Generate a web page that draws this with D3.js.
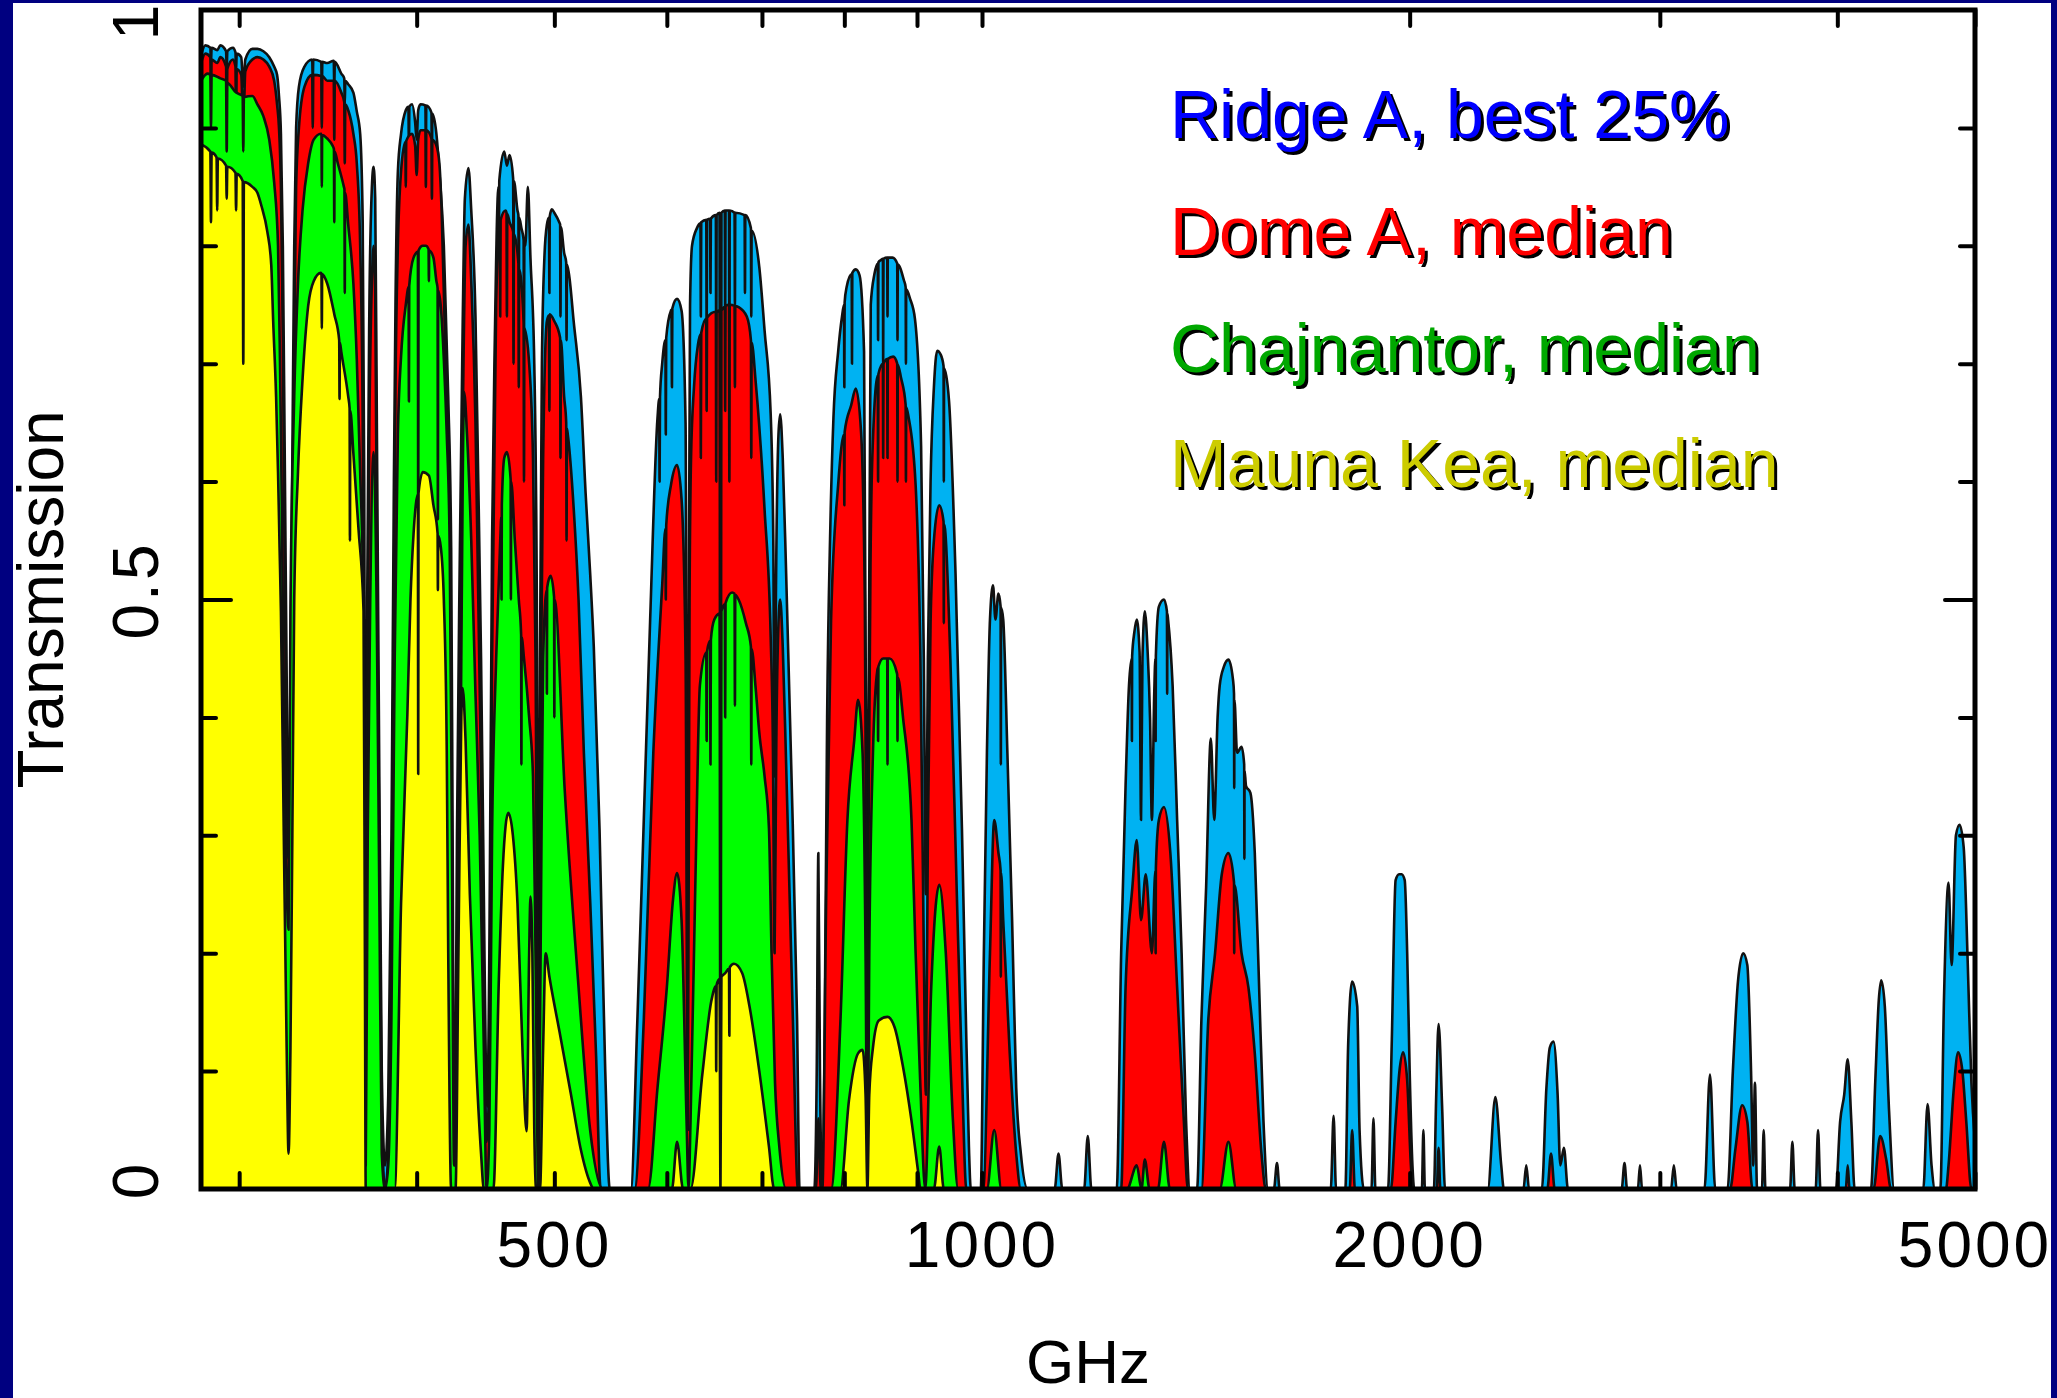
<!DOCTYPE html>
<html>
<head>
<meta charset="utf-8">
<script src="https://cdn.jsdelivr.net/npm/d3@7"></script>
<style>
  html, body { margin: 0; padding: 0; background: #ffffff; }
  svg { display: block; }
  text { font-family: "Liberation Sans", Arial, Helvetica, sans-serif; }
</style>
</head>
<body>
<div id="chart"></div>
<script>
// transmission vs frequency, [GHz, T]
const ridgeA = [
  [282, 0.962], [284, 0.97], [286.3, 0.968], [286.6, 0.955], [286.9, 0.968], [289.5, 0.966], [291, 0.97],
  [293.7, 0.965], [294, 0.95], [294.3, 0.965], [297, 0.968], [298.2, 0.964], [298.5, 0.948], [298.8, 0.963],
  [301, 0.96], [302, 0.935], [303, 0.958], [306.5, 0.967], [309, 0.967], [312, 0.965], [315, 0.96],
  [317.5, 0.952], [319, 0.945], [320, 0.927], [321, 0.895], [322, 0.8], [323, 0.62], [324.2, 0.4], [325, 0.3],
  [325.8, 0.4], [327, 0.62], [328, 0.8], [329, 0.9], [330.5, 0.935], [333.5, 0.952], [337.7, 0.958], [338, 0.94],
  [338.3, 0.958], [342.7, 0.956], [343, 0.93], [343.3, 0.956], [346, 0.955], [349.7, 0.957], [350, 0.935],
  [350.3, 0.956], [354, 0.946], [355.7, 0.942], [356, 0.92], [356.3, 0.94], [358, 0.937], [361, 0.93],
  [363, 0.914], [365, 0.895], [366.5, 0.82], [367.4, 0.6], [368.3, 0.1], [369.2, 0.5], [370.5, 0.75], [372, 0.85],
  [373, 0.867], [374, 0.84], [375, 0.65], [376.5, 0.35], [378, 0.1], [380, 0.02], [382, 0.08], [384, 0.3],
  [385.5, 0.6], [386.5, 0.75], [388, 0.863], [390, 0.895], [393, 0.915], [394.7, 0.918], [395, 0.88],
  [395.3, 0.918], [397, 0.92], [399, 0.905], [400, 0.89], [401, 0.915], [402.5, 0.92], [405.7, 0.919], [406, 0.88],
  [406.3, 0.919], [409.7, 0.913], [410, 0.87], [410.3, 0.912], [413, 0.895], [415, 0.863], [418, 0.8],
  [421, 0.672], [423, 0.544], [424, 0.3], [425, 0.03], [426, 0.1], [427, 0.3], [429, 0.54], [431, 0.736],
  [432.5, 0.84], [435, 0.866], [437, 0.83], [440, 0.74], [442, 0.6], [444, 0.45], [446, 0.25], [447.5, 0.1],
  [448.5, 0.07], [450, 0.2], [452, 0.55], [454, 0.72], [456.7, 0.85], [457, 0.8], [457.3, 0.855], [461, 0.88],
  [463, 0.868], [465, 0.877], [467.7, 0.857], [468, 0.78], [468.3, 0.855], [471, 0.83], [471.7, 0.826],
  [472, 0.74], [472.3, 0.824], [474, 0.815], [475.7, 0.805], [476, 0.72], [476.3, 0.803], [477, 0.8], [479, 0.85],
  [481, 0.79], [484, 0.7], [486, 0.5], [487.2, 0.05], [488.5, 0.45], [490, 0.7], [492, 0.79], [494, 0.818],
  [495.7, 0.824], [496, 0.76], [496.3, 0.825], [498, 0.831], [500, 0.828], [504, 0.82], [504.7, 0.818],
  [505, 0.74], [505.3, 0.816], [508, 0.794], [509.7, 0.786], [510, 0.72], [510.3, 0.784], [512, 0.776],
  [516, 0.735], [522, 0.672], [526, 0.59], [530, 0.52], [533, 0.46], [538, 0.305], [543, 0.1], [547, 0],
  [566, 0], [572, 0.143], [578, 0.313], [584, 0.483], [591, 0.654], [592.6, 0.67], [593, 0.6], [593.4, 0.672],
  [595.5, 0.7], [598.6, 0.72], [599, 0.64], [599.4, 0.722], [604, 0.745], [604.6, 0.746], [605, 0.68],
  [605.4, 0.747], [610, 0.755], [614.5, 0.745], [618.5, 0.65], [620.7, 0.08], [622, 0.55], [623, 0.75],
  [625, 0.8], [630, 0.815], [633.6, 0.819], [634, 0.74], [634.4, 0.82], [639.6, 0.822], [640, 0.72],
  [640.4, 0.822], [643.6, 0.823], [644, 0.76], [644.4, 0.823], [649.6, 0.826], [650, 0.7], [650.4, 0.826],
  [653.5, 0.828], [654.5, 0.05], [655.5, 0.828], [659.1, 0.83], [659.5, 0.74], [659.9, 0.83], [663.6, 0.83],
  [664, 0.66], [664.4, 0.83], [669.6, 0.828], [670, 0.75], [670.4, 0.828], [680.6, 0.826], [681, 0.76],
  [681.4, 0.826], [687.6, 0.815], [688, 0.74], [688.4, 0.813], [697, 0.782], [703, 0.728], [710, 0.657],
  [713, 0.55], [714.5, 0.35], [716, 0.5], [719, 0.64], [721, 0.657], [724, 0.62], [728, 0.522], [734, 0.36],
  [741, 0.144], [744, 0],
  [762, 0], [765, 0.1], [767, 0.285], [769, 0.1], [772, 0], [775, 0.14], [778, 0.4], [782, 0.56], [786, 0.654],
  [792, 0.71], [797, 0.74], [799.6, 0.75], [800, 0.68], [800.4, 0.752], [803, 0.765], [809.6, 0.776], [810, 0.7],
  [810.4, 0.777], [815, 0.78], [820, 0.775], [826, 0.71], [829, 0.35], [830.5, 0.03], [832, 0.4], [835, 0.75],
  [840, 0.776], [844.6, 0.785], [845, 0.72], [845.4, 0.786], [849, 0.788], [851.6, 0.789], [852, 0.7],
  [852.4, 0.789], [857.6, 0.79], [858, 0.74], [858.4, 0.79], [865, 0.79], [871.6, 0.785], [872, 0.72],
  [872.4, 0.784], [881, 0.771], [883.6, 0.765], [884, 0.7], [884.4, 0.763], [890, 0.755], [897, 0.738],
  [906, 0.63], [910, 0.45], [913, 0.25], [916, 0.45], [920, 0.6], [925, 0.68], [930, 0.711], [935, 0.708],
  [939.6, 0.698], [940, 0.6], [940.4, 0.696], [948, 0.668], [958, 0.522], [968, 0.306], [974, 0.15],
  [979, 0.036], [982, 0],
  [998, 0], [1003, 0.2], [1008, 0.37], [1013, 0.483], [1018, 0.512], [1022, 0.483], [1027, 0.505],
  [1030.6, 0.494], [1031, 0.36], [1031.4, 0.493], [1035, 0.483], [1042, 0.37], [1050, 0.228], [1057, 0.086],
  [1065, 0.03], [1077, 0],
  [1125, 0], [1132, 0.03], [1139, 0], [1180, 0], [1187, 0.045], [1194, 0],
  [1244, 0], [1253, 0.2], [1262, 0.342], [1269, 0.427], [1274.5, 0.45], [1275, 0.38], [1275.5, 0.452],
  [1280, 0.472], [1285, 0.483], [1291, 0.455], [1294, 0.313], [1297, 0.45], [1302, 0.49], [1308, 0.455],
  [1313, 0.4], [1317, 0.313], [1322, 0.42], [1324.5, 0.45], [1325, 0.38], [1325.5, 0.452], [1332, 0.494],
  [1343, 0.5], [1349.5, 0.49], [1350, 0.42], [1350.5, 0.488], [1352, 0.483], [1362, 0.427], [1372, 0.313],
  [1382, 0.2], [1392, 0.058], [1401, 0],
  [1417, 0], [1427, 0.143], [1438, 0.256], [1449, 0.382], [1457, 0.313], [1465, 0.4], [1470, 0.427],
  [1480, 0.443], [1491, 0.449], [1502, 0.432], [1504.5, 0.42], [1505, 0.34], [1505.5, 0.415], [1512, 0.37],
  [1523, 0.375], [1529.5, 0.36], [1530, 0.28], [1530.5, 0.355], [1534, 0.342], [1545, 0.336], [1556, 0.285],
  [1567, 0.171], [1578, 0.058], [1590, 0],
  [1605, 0], [1613, 0.022], [1620, 0], [1760, 0], [1768, 0.062], [1775, 0],
  [1802, 0], [1810, 0.12], [1822, 0.176], [1837, 0.155], [1844, 0.05], [1857, 0], [1880, 0], [1886, 0.06],
  [1892, 0], [1931, 0], [1943, 0.127], [1955, 0.262], [1966, 0.267], [1974, 0.267], [1984, 0.262], [1992, 0.2],
  [2000, 0.1], [2009, 0.02], [2015, 0], [2040, 0], [2045, 0.05], [2050, 0],
  [2080, 0], [2088, 0.08], [2096, 0.14], [2108, 0.07], [2118, 0], [2270, 0], [2298, 0.078], [2320, 0.02],
  [2330, 0], [2405, 0], [2416, 0.02], [2427, 0], [2478, 0], [2496, 0.085], [2510, 0.12], [2525, 0.125],
  [2542, 0.08], [2553, 0.02], [2568, 0.035], [2585, 0], [2820, 0], [2833, 0.022], [2845, 0], [2895, 0],
  [2905, 0.02], [2915, 0], [3055, 0], [3069, 0.02], [3083, 0], [3225, 0], [3254, 0.097], [3282, 0],
  [3348, 0], [3377, 0.1], [3405, 0.176], [3434, 0.2], [3457, 0.19], [3478, 0.1], [3490, 0.02], [3500, 0.09],
  [3512, 0], [3540, 0], [3550, 0.05], [3560, 0], [3705, 0], [3719, 0.04], [3733, 0], [3862, 0], [3877, 0.05],
  [3892, 0], [3991, 0], [4018, 0.057], [4045, 0.08], [4068, 0.11], [4092, 0.057], [4114, 0],
  [4224, 0], [4254, 0.092], [4278, 0.16], [4295, 0.177], [4320, 0.155], [4350, 0.066], [4386, 0],
  [4598, 0], [4630, 0.072], [4660, 0.02], [4686, 0],
  [4727, 0], [4755, 0.162], [4790, 0.26], [4814, 0.19], [4848, 0.3], [4876, 0.309], [4909, 0.29], [4942, 0.19],
  [4971, 0.09], [5000, 0.04]
];

const domeA = [
  [282, 0.955], [284, 0.963], [286.3, 0.96], [286.6, 0.92], [286.9, 0.958], [289.5, 0.955], [291, 0.96],
  [293.7, 0.952], [294, 0.9], [294.3, 0.95], [297, 0.958], [298.2, 0.952], [298.5, 0.9], [298.8, 0.95],
  [301, 0.945], [302, 0.9], [303, 0.948], [306.5, 0.958], [309, 0.96], [312, 0.958], [315, 0.952], [317.5, 0.94],
  [319, 0.92], [320, 0.9], [321, 0.85], [322, 0.72], [323, 0.52], [324.2, 0.33], [325, 0.28], [325.8, 0.33],
  [327, 0.52], [328, 0.72], [329, 0.85], [330.5, 0.9], [333.5, 0.935], [337.7, 0.945], [338, 0.9],
  [338.3, 0.945], [342.7, 0.944], [343, 0.9], [343.3, 0.944], [346, 0.94], [349.7, 0.94], [350, 0.89],
  [350.3, 0.94], [354, 0.93], [355.7, 0.922], [356, 0.87], [356.3, 0.92], [358, 0.915], [361, 0.895],
  [363, 0.87], [365, 0.8], [366.5, 0.65], [367.4, 0.4], [368.3, 0.05], [369.2, 0.4], [370.5, 0.65], [372, 0.77],
  [373, 0.8], [374, 0.76], [375, 0.55], [376.5, 0.28], [378, 0.06], [380, 0], [382, 0.03], [384, 0.2],
  [385.5, 0.5], [386.5, 0.68], [388, 0.8], [390, 0.863], [392.7, 0.888], [393, 0.85], [393.3, 0.889],
  [397, 0.895], [399, 0.885], [400, 0.86], [401, 0.89], [402.5, 0.898], [405.7, 0.898], [406, 0.85],
  [406.3, 0.898], [409.7, 0.891], [410, 0.84], [410.3, 0.89], [413, 0.885], [415, 0.87], [416.5, 0.83],
  [418.5, 0.736], [421, 0.608], [422.5, 0.49], [423.5, 0.2], [425, 0.02], [426.5, 0.1], [428, 0.3],
  [429.5, 0.5], [431, 0.65], [433, 0.8], [435, 0.818], [437, 0.77], [440, 0.65], [442, 0.5], [444, 0.35],
  [446, 0.18], [448, 0.04], [450, 0.1], [452, 0.45], [455, 0.75], [457.7, 0.82], [458, 0.74], [458.3, 0.822],
  [462, 0.83], [462.7, 0.828], [463, 0.74], [463.3, 0.827], [465, 0.82], [467.7, 0.812], [468, 0.7],
  [468.3, 0.81], [471.7, 0.785], [472, 0.68], [472.3, 0.78], [475.7, 0.735], [476, 0.6], [476.3, 0.73],
  [480, 0.7], [483, 0.62], [485, 0.45], [487.2, 0.03], [489, 0.4], [491, 0.62], [494, 0.736], [495.7, 0.741],
  [496, 0.66], [496.3, 0.742], [500, 0.736], [504.7, 0.722], [505, 0.62], [505.3, 0.72], [508, 0.672],
  [509.7, 0.65], [510, 0.55], [510.3, 0.645], [511, 0.64], [516, 0.576], [520, 0.5], [524.5, 0.37], [530, 0.242],
  [535, 0.113], [539, 0],
  [569.5, 0], [578, 0.143], [587, 0.37], [595.5, 0.512], [598.6, 0.56], [599, 0.5], [599.4, 0.563], [604, 0.597],
  [610, 0.614], [614.5, 0.585], [618.5, 0.45], [620.7, 0.05], [622.5, 0.5], [624, 0.62], [627, 0.68],
  [631, 0.716], [633.6, 0.725], [634, 0.62], [634.4, 0.726], [639.6, 0.738], [640, 0.66], [640.4, 0.739],
  [649.6, 0.744], [650, 0.6], [650.4, 0.744], [653.5, 0.745], [654.5, 0.03], [655.5, 0.745], [659.1, 0.748],
  [659.5, 0.66], [659.9, 0.749], [663.6, 0.75], [664, 0.6], [664.4, 0.75], [669.6, 0.749], [670, 0.68],
  [670.4, 0.749], [674, 0.748], [683, 0.74], [687.6, 0.72], [688, 0.62], [688.4, 0.718], [693, 0.684],
  [703, 0.576], [710, 0.468], [712.5, 0.38], [714.5, 0.2], [716.5, 0.38], [719, 0.48], [721, 0.5], [724, 0.46],
  [728, 0.36], [736, 0.144], [742, 0],
  [764, 0], [767, 0.06], [770, 0], [772, 0], [777, 0.256], [783, 0.483], [792, 0.597], [799.6, 0.64],
  [800, 0.58], [800.4, 0.642], [809, 0.665], [815, 0.679], [822, 0.642], [827, 0.5], [829, 0.25], [830.5, 0.02],
  [832, 0.3], [835, 0.55], [838, 0.636], [844.6, 0.69], [845, 0.6], [845.4, 0.691], [851.6, 0.7], [852, 0.62],
  [852.4, 0.7], [857.6, 0.704], [858, 0.62], [858.4, 0.704], [866, 0.706], [871.6, 0.7], [872, 0.6],
  [872.4, 0.699], [877, 0.688], [883.6, 0.665], [884, 0.6], [884.4, 0.663], [888, 0.654], [898, 0.597],
  [905, 0.45], [910, 0.2], [913, 0.08], [916, 0.3], [920, 0.48], [925, 0.55], [933, 0.58], [939.6, 0.566],
  [940, 0.48], [940.4, 0.564], [950, 0.45], [960, 0.25], [968, 0.1], [975, 0],
  [1002, 0], [1013, 0.2], [1020, 0.313], [1027, 0.285], [1030.6, 0.27], [1031, 0.18], [1031.4, 0.268],
  [1035, 0.228], [1046, 0.115], [1057, 0.03], [1065, 0],
  [1253, 0], [1262, 0.171], [1276, 0.256], [1285, 0.296], [1294, 0.228], [1304, 0.267], [1317, 0.2],
  [1324.5, 0.27], [1325, 0.2], [1325.5, 0.272], [1332, 0.313], [1343, 0.324], [1357, 0.285], [1372, 0.171],
  [1387, 0.058], [1396, 0],
  [1427, 0], [1443, 0.143], [1459, 0.2], [1475, 0.267], [1491, 0.285], [1504.5, 0.26], [1505, 0.2],
  [1505.5, 0.258], [1523, 0.2], [1540, 0.171], [1556, 0.115], [1573, 0.03], [1584, 0],
  [1815, 0], [1822, 0.05], [1830, 0], [1940, 0], [1955, 0.057], [1968, 0.102], [1979, 0.116], [1992, 0.092],
  [2004, 0.02], [2010, 0], [2090, 0], [2096, 0.035], [2102, 0], [2500, 0], [2515, 0.03], [2530, 0],
  [3362, 0], [3391, 0.034], [3428, 0.071], [3457, 0.057], [3486, 0], [4055, 0], [4068, 0.02], [4080, 0],
  [4242, 0], [4288, 0.045], [4330, 0.025], [4364, 0], [4770, 0], [4790, 0.02], [4831, 0.085], [4865, 0.116],
  [4900, 0.099], [4930, 0.057], [4971, 0], [5000, 0]
];

const chajnantor = [
  [282, 0.94], [285, 0.946], [286.3, 0.945], [286.6, 0.9], [286.9, 0.945], [291, 0.942], [293.7, 0.94],
  [294, 0.88], [294.3, 0.938], [298.5, 0.93], [301.7, 0.927], [302, 0.88], [302.3, 0.926], [306.5, 0.927],
  [309, 0.92], [312, 0.91], [315, 0.89], [317.5, 0.854], [319.5, 0.8], [320.5, 0.704], [321.5, 0.576],
  [322, 0.49], [323.5, 0.3], [325, 0.22], [326, 0.49], [328, 0.672], [330, 0.768], [332.5, 0.831],
  [335.5, 0.87], [338.5, 0.89], [342.5, 0.895], [342.8, 0.895], [343, 0.85], [343.2, 0.894], [346, 0.891],
  [349, 0.885], [349.8, 0.882], [350, 0.82], [350.2, 0.88], [352, 0.87], [355.5, 0.85], [355.8, 0.848],
  [356, 0.76], [356.2, 0.845], [358, 0.818], [361, 0.768], [363, 0.704], [365, 0.608], [367, 0.49],
  [368.3, 0.02], [369.5, 0.3], [371, 0.5], [373, 0.625], [375, 0.48], [376.5, 0.25], [378, 0.03], [380, 0],
  [382, 0.02], [384, 0.15], [386, 0.45], [388, 0.64], [390, 0.706], [393, 0.75], [394.8, 0.765], [395, 0.668],
  [395.2, 0.766], [398, 0.79], [400.8, 0.795], [401, 0.55], [401.2, 0.796], [404, 0.8], [406, 0.8],
  [407.8, 0.797], [408, 0.77], [408.2, 0.796], [411, 0.79], [413, 0.77], [413.8, 0.764], [414, 0.568],
  [414.2, 0.762], [416, 0.748], [418, 0.704], [420, 0.64], [422, 0.544], [423.5, 0.3], [425, 0.02], [427, 0.02],
  [428.5, 0.2], [430, 0.45], [432, 0.676], [434, 0.64], [437, 0.55], [440, 0.42], [443, 0.3], [446, 0.12],
  [448, 0], [450, 0.05], [452, 0.3], [455, 0.45], [458, 0.55], [458.8, 0.57], [459, 0.5], [459.2, 0.58],
  [461, 0.62], [463, 0.625], [465.8, 0.602], [466, 0.5], [466.2, 0.6], [469, 0.55], [472, 0.5], [473.8, 0.47],
  [474, 0.36], [474.2, 0.468], [476, 0.45], [480, 0.4], [483, 0.35], [485, 0.2], [487.2, 0], [489, 0.2],
  [491, 0.45], [493.8, 0.508], [494, 0.42], [494.2, 0.51], [497, 0.52], [499.8, 0.502], [500, 0.4],
  [500.2, 0.5], [508.5, 0.338], [519.5, 0.178], [530, 0.049], [541, 0],
  [582, 0], [591, 0.086], [600, 0.171], [606, 0.245], [610, 0.268], [614.5, 0.228], [619.5, 0.058],
  [621.5, 0], [623.5, 0.058], [629, 0.285], [633, 0.427], [639.6, 0.455], [640, 0.38], [640.4, 0.456],
  [643.6, 0.465], [644, 0.36], [644.4, 0.466], [648, 0.483], [653.5, 0.488], [654.5, 0.02], [655.5, 0.49],
  [659.1, 0.496], [659.5, 0.4], [659.9, 0.497], [667, 0.506], [669.6, 0.505], [670, 0.41], [670.4, 0.504],
  [674, 0.5], [682, 0.48], [687.6, 0.46], [688, 0.36], [688.4, 0.458], [693, 0.424], [697, 0.387], [703, 0.35],
  [708, 0.306], [711, 0.2], [715, 0.09], [720, 0.036], [728, 0],
  [783, 0], [795, 0.143], [804, 0.313], [813, 0.381], [818, 0.415], [824, 0.37], [828, 0.2], [830.5, 0],
  [833, 0.2], [838, 0.37], [844, 0.44], [844.6, 0.442], [845, 0.38], [845.4, 0.443], [852, 0.45],
  [857.6, 0.45], [858, 0.36], [858.4, 0.45], [861, 0.45], [871, 0.438], [871.6, 0.436], [872, 0.38],
  [872.4, 0.434], [880, 0.399], [892, 0.313], [898, 0.2], [905, 0.086], [912, 0], [921, 0.171], [933, 0.258],
  [943, 0.2], [954, 0.058], [962, 0],
  [1008, 0], [1020, 0.05], [1032, 0], [1265, 0], [1285, 0.02], [1295, 0], [1302, 0.025], [1312, 0],
  [1330, 0], [1343, 0.04], [1356, 0], [1470, 0], [1491, 0.04], [1510, 0], [5000, 0]
];

const maunaKea = [
  [282, 0.886], [286.3, 0.88], [286.6, 0.82], [286.9, 0.879], [289.2, 0.875], [289.5, 0.83], [289.8, 0.874],
  [293.7, 0.868], [294, 0.84], [294.3, 0.867], [298.2, 0.862], [298.5, 0.83], [298.8, 0.861], [301.7, 0.855],
  [302, 0.7], [302.3, 0.854], [306.5, 0.85], [309, 0.845], [311, 0.834], [314, 0.812], [316, 0.784],
  [317, 0.736], [318.5, 0.672], [319.5, 0.608], [320.3, 0.544], [321, 0.49], [322.5, 0.3], [324, 0.12],
  [325, 0.03], [326, 0.12], [327, 0.3], [328, 0.5], [330, 0.608], [332.5, 0.688], [335.5, 0.749], [338.5, 0.77],
  [342.5, 0.777], [342.8, 0.776], [343, 0.73], [343.2, 0.776], [346, 0.768], [350, 0.742], [352.8, 0.72],
  [353, 0.67], [353.2, 0.718], [354, 0.71], [358, 0.672], [358.8, 0.662], [359, 0.55], [359.2, 0.66],
  [361, 0.624], [364, 0.56], [367, 0.49], [367.8, 0.2], [368.3, 0],
  [386, 0], [390, 0.242], [394, 0.402], [396, 0.5], [398, 0.556], [400.8, 0.589], [401, 0.352], [401.2, 0.59],
  [404, 0.608], [408, 0.605], [411, 0.58], [413.8, 0.556], [414, 0.508], [414.2, 0.554], [416, 0.544],
  [418, 0.5], [420, 0.37], [421, 0.2], [423, 0],
  [426, 0], [428, 0.2], [430, 0.4], [431, 0.425], [433, 0.38], [436, 0.25], [440, 0.12], [444, 0.03], [446, 0],
  [453, 0], [457, 0.178], [460, 0.274], [464, 0.319], [467.5, 0.3], [471, 0.242], [475, 0.113], [478, 0.049],
  [480, 0.2], [481, 0.248], [482.5, 0.2], [484, 0.05], [485.5, 0], [488.5, 0], [491, 0.12], [493, 0.2],
  [496, 0.18], [505, 0.129], [513.5, 0.081], [522, 0.033], [530, 0.005], [533, 0],
  [605, 0], [610, 0.04], [616, 0], [623.5, 0], [635.5, 0.097], [645, 0.16], [649.6, 0.172], [650, 0.1],
  [650.4, 0.173], [653.5, 0.178], [654.5, 0], [655.5, 0.18], [659.5, 0.183], [663.6, 0.187], [664, 0.13],
  [664.4, 0.188], [669, 0.191], [678, 0.183], [686, 0.155], [697, 0.1], [708, 0.036], [714, 0],
  [795, 0], [806, 0.075], [818, 0.115], [824, 0.118], [828, 0.08], [830.5, 0], [833, 0.08], [838, 0.12],
  [846, 0.143], [858, 0.146], [868, 0.137], [880, 0.103], [892, 0.058], [902, 0.013], [905, 0],
  [925, 0], [933, 0.036], [940, 0], [5000, 0]
];

const seriesNames = ['Ridge A, best 25%', 'Dome A, median', 'Chajnantor, median', 'Mauna Kea, median'];
const fillColors = ['#00b2f2', '#ff0000', '#00ff00', '#ffff00'];
const labelColors = ['#0000ff', '#ff0000', '#00a800', '#cccc00'];

const xTicks = [300, 400, 500, 600, 700, 800, 900, 1000, 2000, 3000, 4000, 5000];
const xLabels = [500, 1000, 2000, 5000];
const yMinor = [0.1, 0.2, 0.3, 0.4, 0.6, 0.7, 0.8, 0.9];
const yMajor = [0.5];
const yLabels = [0, 0.5, 1];

const W = 2057, H = 1398;
const box = { left: 201, right: 1975, top: 10, bottom: 1189 };

const x = d3.scaleLog().domain([282, 5000]).range([box.left, box.right]);
const y = d3.scaleLinear().domain([0, 1]).range([box.bottom, box.top]);

const svg = d3.select('#chart').append('svg').attr('width', W).attr('height', H);

svg.append('rect').attr('width', W).attr('height', H).attr('fill', '#ffffff');

svg.append('defs').append('clipPath').attr('id', 'plotClip')
  .append('rect')
  .attr('x', box.left).attr('y', box.top)
  .attr('width', box.right - box.left).attr('height', box.bottom - box.top);

const area = d3.area()
  .x((d) => x(d[0]))
  .y0(y(0))
  .y1((d) => y(d[1]))
  .curve(d3.curveMonotoneX);

const line = d3.line()
  .x((d) => x(d[0]))
  .y((d) => y(d[1]))
  .curve(d3.curveMonotoneX);

const plot = svg.append('g').attr('clip-path', 'url(#plotClip)');

[ridgeA, domeA, chajnantor, maunaKea].forEach((data, i) => {
  plot.append('path').datum(data).attr('d', area).attr('fill', fillColors[i]);
  plot.append('path').datum(data).attr('d', line)
    .attr('fill', 'none')
    .attr('stroke', '#111')
    .attr('stroke-width', 2.6)
    .attr('stroke-linejoin', 'round');
});

// frame
svg.append('rect')
  .attr('x', box.left).attr('y', box.top)
  .attr('width', box.right - box.left).attr('height', box.bottom - box.top)
  .attr('fill', 'none').attr('stroke', '#000').attr('stroke-width', 5);

const tickStyle = (g) => g
  .call((g) => g.select('.domain').remove())
  .call((g) => g.selectAll('line').attr('stroke', '#000').attr('stroke-width', 4).attr('stroke-linecap', 'round'));

svg.append('g').attr('transform', `translate(0,${box.top})`)
  .call(d3.axisTop(x).tickValues(xTicks).tickSize(-16).tickFormat(''))
  .call(tickStyle);
svg.append('g').attr('transform', `translate(0,${box.bottom})`)
  .call(d3.axisBottom(x).tickValues(xTicks).tickSize(-16).tickFormat(''))
  .call(tickStyle);

svg.append('g').attr('transform', `translate(${box.left},0)`)
  .call(d3.axisLeft(y).tickValues(yMinor).tickSize(-15).tickFormat(''))
  .call(tickStyle);
svg.append('g').attr('transform', `translate(${box.left},0)`)
  .call(d3.axisLeft(y).tickValues(yMajor).tickSize(-30).tickFormat(''))
  .call(tickStyle);
svg.append('g').attr('transform', `translate(${box.right},0)`)
  .call(d3.axisRight(y).tickValues(yMinor).tickSize(-15).tickFormat(''))
  .call(tickStyle);
svg.append('g').attr('transform', `translate(${box.right},0)`)
  .call(d3.axisRight(y).tickValues(yMajor).tickSize(-30).tickFormat(''))
  .call(tickStyle);

// x tick labels
svg.append('g').selectAll('text').data(xLabels).join('text')
  .attr('x', (d) => x(d))
  .attr('y', 1267)
  .attr('text-anchor', 'middle')
  .attr('font-size', 64)
  .attr('letter-spacing', 3)
  .attr('fill', '#000')
  .text((d) => d);

// y tick labels, rotated
svg.append('g').selectAll('text').data(yLabels).join('text')
  .attr('transform', (d) => `translate(158,${Math.max(y(d) - 9, 21)}) rotate(-90)`)
  .attr('text-anchor', 'middle')
  .attr('font-size', 64)
  .attr('letter-spacing', 3)
  .attr('fill', '#000')
  .text((d) => d);

svg.append('text')
  .attr('transform', `translate(63,${(box.top + box.bottom) / 2}) rotate(-90)`)
  .attr('text-anchor', 'middle')
  .attr('font-size', 64)
  .attr('fill', '#000')
  .text('Transmission');

svg.append('text')
  .attr('x', (box.left + box.right) / 2)
  .attr('y', 1383)
  .attr('text-anchor', 'middle')
  .attr('font-size', 62)
  .attr('fill', '#000')
  .text('GHz');

// legend with drop shadow
const legend = svg.append('g');
const legendY = [138, 255, 372, 487];
seriesNames.forEach((name, i) => {
  legend.append('text')
    .attr('x', 1173).attr('y', legendY[i] + 3)
    .attr('font-size', 68).attr('fill', '#000')
    .text(name);
  legend.append('text')
    .attr('x', 1170).attr('y', legendY[i])
    .attr('font-size', 68).attr('fill', labelColors[i])
    .text(name);
});

// navy border
svg.append('rect').attr('x', 0).attr('y', 0).attr('width', 13).attr('height', H).attr('fill', '#000080');
svg.append('rect').attr('x', 2051).attr('y', 0).attr('width', 6).attr('height', H).attr('fill', '#000080');
svg.append('rect').attr('x', 0).attr('y', 0).attr('width', W).attr('height', 3).attr('fill', '#000080');
</script>
</body>
</html>
